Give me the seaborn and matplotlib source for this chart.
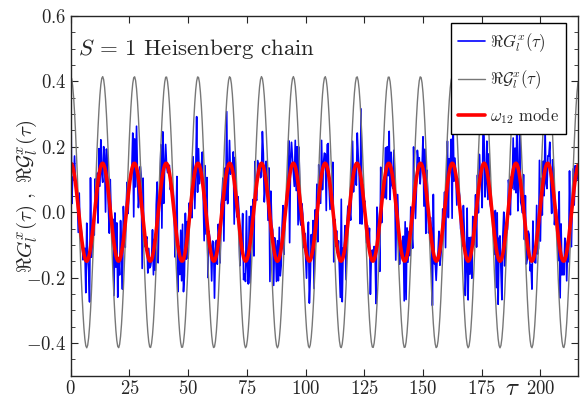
"""S = 1 Heisenberg chain: real part of the transverse correlator vs tau."""

import matplotlib
matplotlib.use("Agg")
import matplotlib.pyplot as plt
from matplotlib.ticker import MultipleLocator
import numpy as np
import pandas as pd
import seaborn as sns

# sampling of the time axis (as plotted)
TAU_MAX = 216.0
DT = 0.4

# spectral content: mode frequencies and weights
OMEGA_12 = 2 * np.pi / 13.54          # dominant mode, period ~13.5
AMP_12 = 0.15                          # red curve amplitude
AMP_SINGLE = 0.415                     # grey single-mode curve amplitude
BLUE_OMEGAS = [OMEGA_12, 2.93, 3.61, 4.47, 5.29, 6.71, 7.37]
BLUE_AMPS = [AMP_12, 0.03, 0.04, 0.04, 0.05, 0.05, 0.06]

tau = np.arange(0.0, TAU_MAX + DT, DT)
G_full = sum(a * np.cos(w * tau) for a, w in zip(BLUE_AMPS, BLUE_OMEGAS))
G_single = AMP_SINGLE * np.cos(OMEGA_12 * tau)
G_mode = AMP_12 * np.cos(OMEGA_12 * tau)

df = pd.DataFrame({"tau": tau, "full": G_full, "single": G_single, "mode": G_mode})

sns.set_style("ticks")
plt.rcParams["font.family"] = ["cmr10"]
plt.rcParams["mathtext.fontset"] = "cm"
plt.rcParams["axes.formatter.use_mathtext"] = True

fig = plt.figure(figsize=(5.85, 4.03), dpi=100)
ax = fig.add_axes([0.121, 0.068, 0.867, 0.892])

sns.lineplot(data=df, x="tau", y="full", ax=ax, color="#0000ff", lw=1.2,
             estimator=None, label=r"$\Re G_l^x(\tau)$")
sns.lineplot(data=df, x="tau", y="single", ax=ax, color="#777777", lw=1.0,
             estimator=None, label=r"$\Re \mathcal{G}_l^x(\tau)$")
sns.lineplot(data=df, x="tau", y="mode", ax=ax, color="#ff0000", lw=2.6,
             estimator=None, label=r"$\omega_{12}$ mode")

ax.set_xlim(0, TAU_MAX)
ax.set_ylim(-0.5, 0.6)
ax.xaxis.set_major_locator(MultipleLocator(25))
ax.yaxis.set_major_locator(MultipleLocator(0.2))
ax.yaxis.set_minor_locator(MultipleLocator(0.05))
ax.tick_params(which="both", direction="in", top=True, right=True, labelsize=13.5)
ax.tick_params(which="major", length=5)
ax.tick_params(which="minor", length=3)
ax.yaxis.set_major_formatter(plt.FuncFormatter(lambda v, _: f"${v:.1f}$"))
for s in ax.spines.values():
    s.set_linewidth(1.0)

ax.set_xlabel(r"$\tau$", fontsize=18)
ax.xaxis.set_label_coords(0.87, -0.005)
ax.set_ylabel(r"$\Re G_l^x(\tau)\ ,\ \Re \mathcal{G}_l^x(\tau)$", fontsize=15)
ax.yaxis.set_label_coords(-0.062, 0.5)

ax.text(0.014, 0.892, r"$S\,=\,1$ Heisenberg chain", transform=ax.transAxes,
        fontsize=16.5)

leg = ax.legend(loc="upper right", fontsize=12, frameon=True, fancybox=False,
                handlelength=1.6, borderpad=0.45, labelspacing=0.9,
                handletextpad=0.3, borderaxespad=0.0,
                bbox_to_anchor=(0.977, 0.98))
leg.get_frame().set_edgecolor("black")
leg.get_frame().set_linewidth(1.0)
leg.get_frame().set_alpha(1.0)

fig.savefig("out.png", dpi=100)
